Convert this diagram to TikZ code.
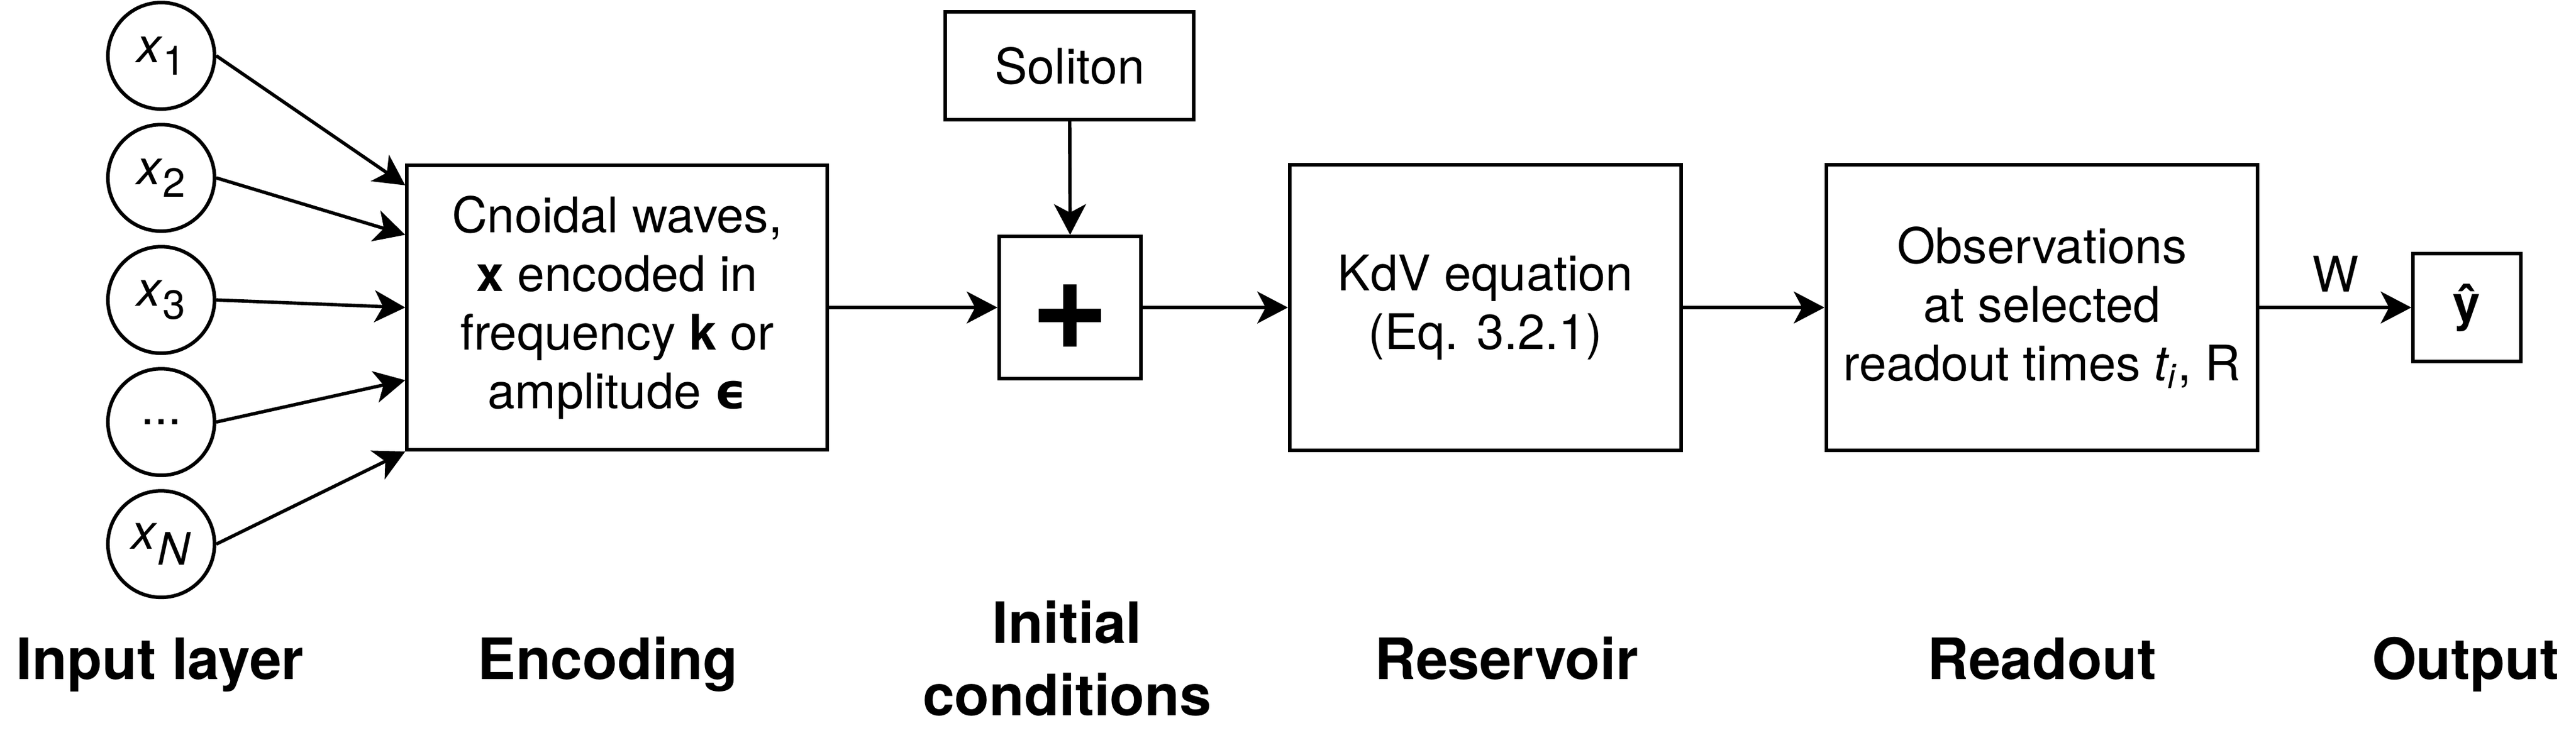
\documentclass[tikz,border=0pt]{standalone}
\usepackage{fontspec}
\setmainfont{TeX Gyre Heros}
\newfontfamily\greekfont{DejaVu Sans}
\usetikzlibrary{arrows.meta}

\newcommand\insub[1]{\textit{x}\raisebox{-3pt}{\fontsize{9.7}{10}\selectfont #1}}

\begin{document}
\begin{tikzpicture}[x=1pt,y=1pt,
    inp/.style={draw,circle,line width=0.85pt,minimum size=25.4pt,inner sep=0pt,font=\fontsize{11.7}{14}\selectfont},
    blk/.style={draw,rectangle,line width=0.85pt,inner sep=0pt,align=center,font=\fontsize{11.7}{14}\selectfont},
    lay/.style={font=\fontsize{13.6}{17.2}\selectfont\bfseries,align=center},
    arr/.style={-{Stealth[length=7.3pt,width=7.6pt,inset=2pt]},line width=0.8pt}]
     \useasboundingbox (0,0) rectangle (613.6,-174.6);
     % inputs
     \node[inp] (x1) at (38.4,-13.3) {\insub{1}};
     \node[inp] (x2) at (38.4,-42.4) {\insub{2}};
     \node[inp] (x3) at (38.4,-71.5) {\insub{3}};
     \node[inp] (xd) at (38.4,-100.6) {...};
     \node[inp] (xN) at (38.4,-129.7) {\textit{x}\raisebox{-3.7pt}{\fontsize{10.7}{11}\selectfont\textit{N}}};
     % blocks
     \node[blk,minimum width=100.1pt,minimum height=67.8pt] (enc) at (147.0,-73.3)
        {Cnoidal waves,\\ \textbf{x} encoded in\\ frequency \textbf{k} or\\ amplitude {\greekfont\bfseries ϵ}};
     \node[blk,minimum width=59.2pt,minimum height=25.7pt] (sol) at (254.8,-15.7) {Soliton};
     \node[blk,minimum size=33.8pt,text height=19.8pt,text depth=0pt,font=\fontsize{32}{32}\selectfont\bfseries] (sum) at (254.9,-73.3) {+};
     \node[blk,minimum width=93.2pt,minimum height=68pt] (res) at (353.8,-73.3) {KdV equation\\ (Eq. 3.2.1)};
     \node[blk,minimum width=102.8pt,minimum height=68.2pt] (rd) at (486.4,-73.3)
        {Observations\\ at selected\\ readout times \textit{t\textsubscript{i}}, R};
     \node[blk,minimum size=25.6pt] (yh) at (587.6,-73.3) {\textbf{ŷ}};
     % entry points on the encoding block
     \coordinate (e1) at ([yshift=-5.2pt]enc.north west);
     \coordinate (e2) at ([yshift=-17pt]enc.north west);
     \coordinate (e3) at (enc.west);
     \coordinate (e4) at ([yshift=17pt]enc.south west);
     \coordinate (e5) at (enc.south west);
     \draw[arr] (x1.east) -- (e1);
     \draw[arr] (x2.east) -- (e2);
     \draw[arr] (x3.east) -- (e3);
     \draw[arr] (xd.east) -- (e4);
     \draw[arr] (xN.east) -- (e5);
     \draw[arr] (enc.east) -- (sum.west);
     \draw[arr] (sol.south) -- (sum.north);
     \draw[arr] (sum.east) -- (res.west);
     \draw[arr] (res.east) -- (rd.west);
     \draw[arr] (rd.east) -- node[midway,above,font=\fontsize{11.7}{14}\selectfont] (wlab) {W} (yh.west);
     % layer names
     \node[lay,anchor=base] (linp) at (38.1,-162) {Input layer};
     \node[lay,anchor=base] (lenc) at (144.8,-162) {Encoding};
     \node[lay,anchor=base] (lini) at (254.2,-170.5) {Initial\\ conditions};
     \node[lay,anchor=base] (lres) at (358.9,-162) {Reservoir};
     \node[lay,anchor=base] (lrd) at (486.4,-162) {Readout};
     \node[lay,anchor=base] (lout) at (587.3,-162) {Output};
    \end{tikzpicture}
\end{document}
